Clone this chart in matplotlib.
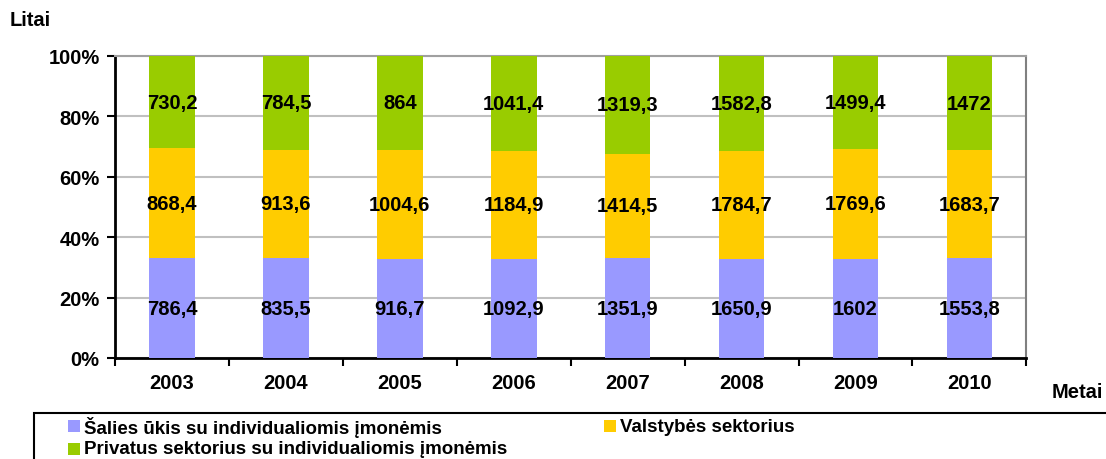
import matplotlib
matplotlib.use("Agg")
import matplotlib.pyplot as plt
from matplotlib.patches import Rectangle
import numpy as np

plt.rcParams['font.family'] = ['Liberation Sans', 'DejaVu Sans']

years = ["2003", "2004", "2005", "2006", "2007", "2008", "2009", "2010"]
salies = [786.4, 835.5, 916.7, 1092.9, 1351.9, 1650.9, 1602, 1553.8]
valstybes = [868.4, 913.6, 1004.6, 1184.9, 1414.5, 1784.7, 1769.6, 1683.7]
privatus = [730.2, 784.5, 864, 1041.4, 1319.3, 1582.8, 1499.4, 1472]
series_names = ["Šalies ūkis su individualiomis įmonėmis", "Valstybės sektorius",
                "Privatus sektorius su individualiomis įmonėmis"]
colors = ["#9999FF", "#FFCC00", "#99CC00"]

FS = 14.5
LFS = 13.5

def fmt(v):
    s = f"{v:.1f}".replace(".", ",")
    if s.endswith(",0"):
        s = s[:-2]
    return s

fig = plt.figure(figsize=(11.06, 4.6), dpi=100)
ax = fig.add_axes([0.104, 0.2196, 0.824, 0.6565])

data = np.array([salies, valstybes, privatus])
totals = data.sum(axis=0)
pct = data / totals * 100
x = np.arange(len(years))
bottom = np.zeros(len(years))
for i in range(3):
    ax.bar(x, pct[i], 0.4, bottom=bottom, color=colors[i], zorder=3)
    for j in range(len(years)):
        ax.text(x[j], bottom[j] + pct[i][j] / 2, fmt(data[i][j]), ha='center', va='center',
                fontsize=FS, fontweight='bold', zorder=4)
    bottom += pct[i]

ax.set_xlim(-0.5, len(years) - 0.5)
ax.set_ylim(0, 100)
ax.set_yticks(np.arange(0, 101, 20))
ax.set_yticklabels([f"{v}%" for v in range(0, 101, 20)], fontsize=FS, fontweight='bold')
ax.set_xticks(np.arange(-0.5, len(years), 1))
ax.set_xticklabels([])
ax.set_xticks(x, minor=True)
ax.set_xticklabels(years, minor=True, fontsize=FS, fontweight='bold')
ax.tick_params(axis='x', which='minor', length=0, pad=11)
ax.tick_params(axis='x', which='major', direction='out', length=6, width=1.5)
ax.tick_params(axis='y', direction='out', length=6, width=1.5, pad=5)
ax.yaxis.grid(True, color='#C0C0C0', linewidth=1.5, zorder=0)
ax.set_axisbelow(True)
ax.spines['left'].set_linewidth(2)
ax.spines['bottom'].set_linewidth(2)
ax.spines['top'].set_color('#A0A0A0')
ax.spines['top'].set_linewidth(1.5)
ax.spines['right'].set_color('#808080')
ax.spines['right'].set_linewidth(1.5)

fig.text(0.009, 0.955, "Litai", fontsize=FS, fontweight='bold', ha='left', va='center')
fig.text(0.951, 0.147, "Metai", fontsize=FS, fontweight='bold', ha='left', va='center')

# legend box
fig.patches.append(Rectangle((0.031, -0.05), 1.0, 0.149, transform=fig.transFigure,
                             fill=False, edgecolor='black', linewidth=1.5))
leg_items = [(0.0615, 0.071, 0), (0.546, 0.071, 1), (0.0615, 0.022, 2)]
for lx, ly, idx in leg_items:
    fig.patches.append(Rectangle((lx, ly - 0.013), 0.0108, 0.026, transform=fig.transFigure,
                                 facecolor=colors[idx], edgecolor='none'))
    fig.text(lx + 0.0145, ly, series_names[idx], fontsize=LFS, fontweight='bold',
             ha='left', va='center')

fig.savefig("out.png", dpi=100)
